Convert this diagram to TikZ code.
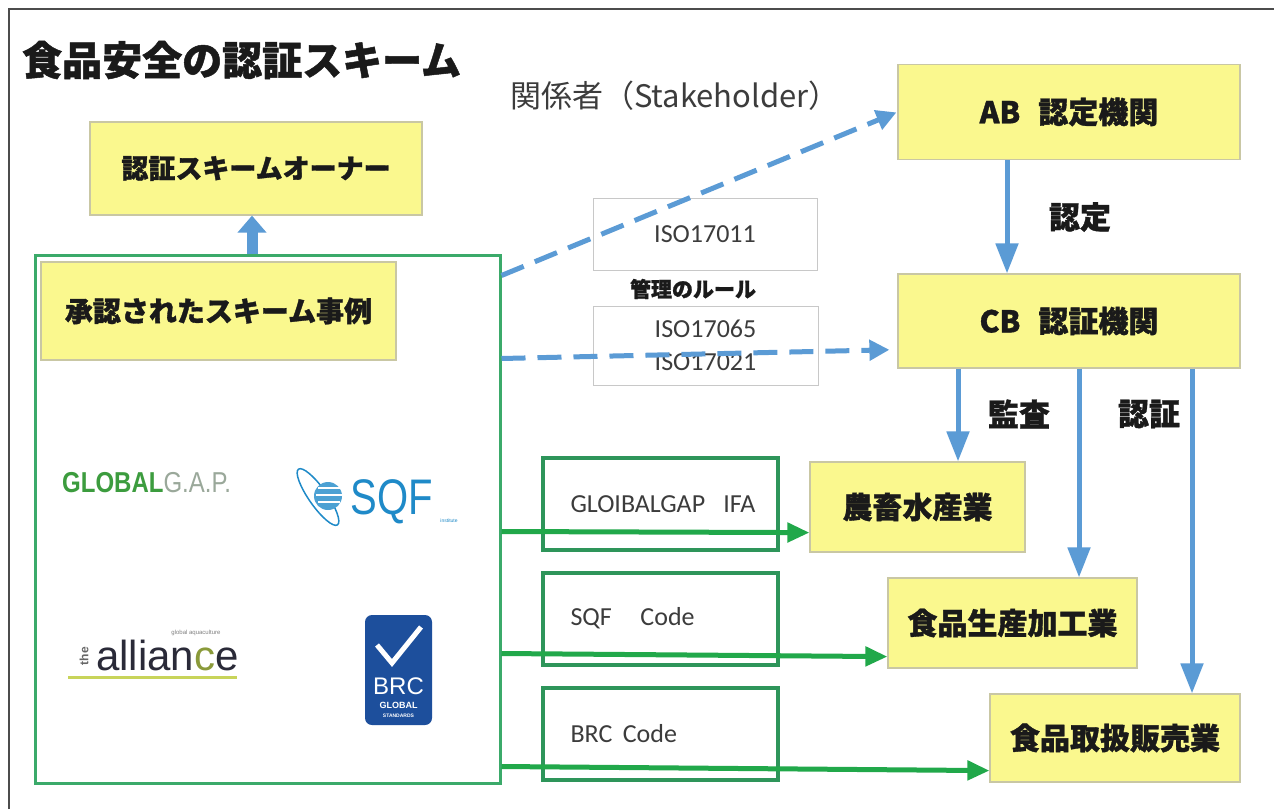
\documentclass[tikz,border=0pt]{standalone}
\usepackage{fontspec}
\usepackage{graphicx}
\usetikzlibrary{arrows.meta,calc}
\newfontfamily\jp{Noto Sans CJK JP}[BoldFeatures={FakeBold=1.2}]
\newfontfamily\calib{Carlito}
\newfontfamily\lsans{Liberation Sans}
\definecolor{yfill}{HTML}{FAF88E}
\definecolor{yline}{HTML}{C9C7A4}
\definecolor{bl}{HTML}{5B9BD5}
\definecolor{gbox}{HTML}{3BAA6A}
\definecolor{gdark}{HTML}{2E955A}
\definecolor{garrow}{HTML}{21A84A}
\definecolor{txt}{HTML}{1A1A1A}
\definecolor{gtxt}{HTML}{3C3C3C}
\definecolor{isoline}{HTML}{C8C8C8}
\definecolor{glgreen}{HTML}{3C9C3E}
\definecolor{glgray}{HTML}{9AA89A}
\definecolor{sqfblue}{HTML}{1F8AC8}
\definecolor{alldark}{HTML}{2A2A38}
\definecolor{allgreen}{HTML}{8A9A3A}
\definecolor{allbar}{HTML}{C8D45A}
\definecolor{brcblue}{HTML}{1D4F9C}
\begin{document}
\begin{tikzpicture}[x=1pt,y=-1pt,
  ybox/.style={draw=yline, fill=yfill, line width=1.2pt, inner sep=0pt, text=txt,
    font=\jp\bfseries\fontsize{30}{30}\selectfont},
  gsmall/.style={draw=gdark, line width=4pt, inner sep=0pt, minimum width=235pt, minimum height=92pt,
    text width=180pt, align=left, text=gtxt, font=\calib\fontsize{26}{26}\selectfont},
  isobox/.style={draw=isoline, fill=white, line width=1pt, inner sep=0pt, text=gtxt,
    font=\calib\fontsize{26}{33}\selectfont, align=center},
  lbl/.style={inner sep=0pt, text=txt, font=\jp\bfseries\fontsize{31}{31}\selectfont},
  barrow/.style={draw=bl, line width=5pt, -{Triangle[width=22pt,length=30pt]}},
  darrow/.style={draw=bl, line width=5pt, dash pattern=on 24pt off 12pt, -{Triangle[width=20pt,length=20pt]}},
  garr/.style={draw=garrow, line width=5pt, -{Triangle[width=19pt,length=22pt]}},
]
\useasboundingbox (0,0) rectangle (1274,809);
\fill[white] (0,0) rectangle (1274,809);
% frame
\draw[gray!60!black, line width=2pt] (9,809) -- (9,9) -- (1274,9);

% titles
\node[inner sep=0pt, anchor=west, text=txt, font=\jp\bfseries\fontsize{40}{40}\selectfont] (title) at (22,60) {食品安全の認証スキーム};
\node[inner sep=0pt, anchor=west, text=gtxt, font=\jp\fontsize{31}{31}\selectfont] (stake) at (510,96) {関係者（Stakeholder）};

% left boxes
\node[ybox, minimum width=332pt, minimum height=93pt, font=\jp\bfseries\fontsize{27}{27}\selectfont] (owner) at (256,168.5) {認証スキームオーナー};
\node[draw=gbox, line width=3pt, minimum width=465pt, minimum height=528pt, inner sep=0pt] (G) at (267.5,519) {};
\node[ybox, minimum width=355pt, minimum height=98pt, font=\jp\bfseries\fontsize{28}{28}\selectfont] (appr) at (218.5,311) {承認されたスキーム事例};

% logos
\node[inner sep=0pt, anchor=west, font=\lsans\fontsize{24}{24}\selectfont] (glogap) at (62,483)
  {\scalebox{1}[1.2]{{\bfseries\color{glgreen}GLOBAL}{\color{glgray}G.A.P.}}};
\draw[sqfblue, line width=1.5pt, rotate around={-55:(318,497)}] (318,497) ellipse [x radius=34pt, y radius=9pt];
\fill[sqfblue!80] (328,496) circle (14pt);
\draw[white, line width=1.5pt] (318,488) -- (340,488) (316,495) -- (342,495) (318,502) -- (340,502);
\node[inner sep=0pt, text=sqfblue, font=\lsans\fontsize{50}{50}\selectfont] (sqf) at (392,502) {\scalebox{0.8}[1]{SQF}};
\node[inner sep=0pt, text=sqfblue, font=\lsans\fontsize{5}{5}\selectfont] (sqfi) at (449,521) {institute};

\node[inner sep=0pt, anchor=base west, text=alldark, font=\lsans\fontsize{42}{42}\selectfont] (alli) at (96,670) {allian{\color{allgreen}c}e};
\node[inner sep=0pt, rotate=90, text=gray!80!black, font=\lsans\bfseries\fontsize{12}{12}\selectfont] (the) at (84,656) {the};
\node[inner sep=0pt, text=gray, font=\lsans\fontsize{6}{6}\selectfont] (gaq) at (196,633) {global aquaculture};
\fill[allbar] (68,676) rectangle (237,679);

\fill[brcblue, rounded corners=7pt] (365,615) rectangle (432,725);
\draw[white, line width=5pt] (377,645) -- (392,663) -- (421,627);
\node[inner sep=0pt, text=white, font=\lsans\fontsize{24}{24}\selectfont] (brc) at (398.5,686) {BRC};
\node[inner sep=0pt, text=white, font=\lsans\bfseries\fontsize{9}{9}\selectfont] (brcg) at (398.5,705) {GLOBAL};
\node[inner sep=0pt, text=white, font=\lsans\bfseries\fontsize{5}{5}\selectfont] (brcs) at (398.5,716) {STANDARDS};

% standards boxes
\node[gsmall] (s1) at (660.5,504) {\mbox{GLOIBALGAP\hspace{0.7em}IFA}};
\node[gsmall] (s2) at (660.5,618.5) {\mbox{SQF\hspace{1.1em}Code}};
\node[gsmall] (s3) at (660.5,734) {\mbox{BRC\hspace{0.4em}Code}};

% ISO boxes
\node[isobox, minimum width=224pt, minimum height=72pt] (iso1) at (705,234) {ISO17011};
\node[isobox, minimum width=225pt, minimum height=79pt] (iso2) at (705.5,345.5) {ISO17065\\ISO17021};
\node[inner sep=0pt, text=txt, font=\jp\bfseries\fontsize{21}{21}\selectfont] (rule) at (693,289) {管理のルール};

% right boxes
\node[ybox, minimum width=342pt, minimum height=95pt] (AB) at (1069,112) {AB\hspace{0.6em}認定機関};
\node[ybox, minimum width=342pt, minimum height=94pt] (CB) at (1069,321) {CB\hspace{0.6em}認証機関};
\node[ybox, minimum width=215pt, minimum height=90pt] (N1) at (917.5,507) {農畜水産業};
\node[ybox, minimum width=249pt, minimum height=90pt] (N2) at (1012.5,623) {食品生産加工業};
\node[ybox, minimum width=250pt, minimum height=88pt] (N3) at (1115,738) {食品取扱販売業};

% labels
\node[lbl] (l1) at (1080,217) {認定};
\node[lbl] (l2) at (1019,414) {監査};
\node[lbl] (l3) at (1149,414) {認証};

% arrows
\coordinate (ux) at (252,0);
\draw[bl, line width=11pt, -{Triangle[width=28pt,length=17pt]}] (G.north -| ux) -- (owner.south -| ux);

\coordinate (abx) at (1007,0);
\draw[barrow] (AB.south -| abx) -- (CB.north -| abx);
\coordinate (c1) at (958,0);
\coordinate (c2) at (1079,0);
\coordinate (c3) at (1192,0);
\draw[barrow] (CB.south -| c1) -- (N1.north -| c1);
\draw[barrow] (CB.south -| c2) -- (N2.north -| c2);
\draw[barrow] (CB.south -| c3) -- (N3.north -| c3);

\draw[darrow, shorten >=1pt] ([yshift=-22pt]G.north east) -- (AB.west);
\draw[darrow, shorten >=8pt] ([yshift=-105pt]G.north east) -- ([yshift=19pt]CB.south west);

\draw[garr] ([yshift=253pt]G.south east) -- ([yshift=20pt]N1.south west);
\draw[garr] ([yshift=131pt]G.south east) -- ([yshift=12pt]N2.south west);
\draw[garr] ([yshift=18pt]G.south east) -- ([yshift=12pt]N3.south west);
\end{tikzpicture}
\end{document}
